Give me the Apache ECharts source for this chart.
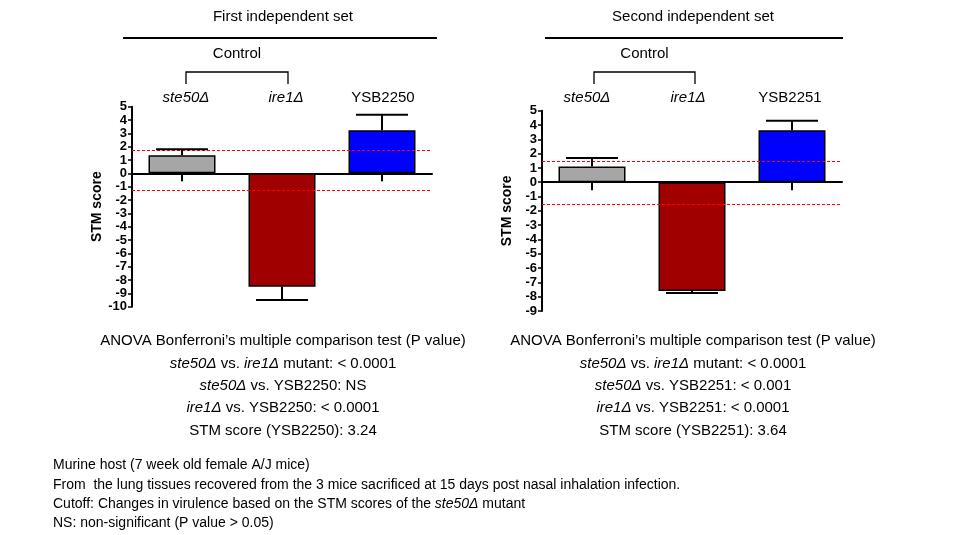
<!DOCTYPE html>
<html><head><meta charset="utf-8">
<script src="https://cdn.jsdelivr.net/npm/echarts@6/dist/echarts.min.js"></script>
<style>html,body{margin:0;background:#fff}#c{width:960px;height:535px}</style>
</head><body><div id="c"></div>
<script>
const categories = ['ste50Δ', 'ire1Δ', 'YSB'];
const colors = ['#a6a6a6', '#a00000', '#0000ff'];
const set1Values = [1.35, -8.5, 3.24];
const set1ErrEnd = [1.8, -9.5, 4.4];
const set1Cutoff = [1.75, -1.3];
const set2Values = [1.1, -7.6, 3.64];
const set2ErrEnd = [1.7, -7.75, 4.3];
const set2Cutoff = [1.5, -1.55];
const yTicks1 = {min: -10, max: 5};
const yTicks2 = {min: -9, max: 5};

const font = 'Liberation Sans, Arial, sans-serif';
function yAxis(idx, t) {
  return {gridIndex: idx, type: 'value', min: t.min, max: t.max, interval: 1,
    axisLine: {show: true, lineStyle: {color: '#000', width: 2}},
    axisTick: {show: true, length: 4, lineStyle: {color: '#000', width: 1.5}},
    splitLine: {show: false},
    axisLabel: {color: '#000', fontWeight: 'bold', fontSize: 13, fontFamily: font, margin: 5},
    name: 'STM score', nameLocation: 'middle', nameGap: 28, nameRotate: 90,
    nameTextStyle: {color: '#000', fontWeight: 'bold', fontSize: 14, fontFamily: font}};
}
function xAxis(idx) {
  return {gridIndex: idx, type: 'category', data: categories,
    axisLine: {onZero: true, lineStyle: {color: '#000', width: 2}},
    axisTick: {show: true, alignWithLabel: true, inside: false, length: 8, lineStyle: {color: '#000', width: 2}, interval: 0},
    axisLabel: {show: false}};
}
function bars(idx, vals, cut) {
  return {type: 'bar', xAxisIndex: idx, yAxisIndex: idx, barWidth: 67,
    data: vals.map((v, i) => ({value: v, itemStyle: {color: colors[i], borderColor: '#000', borderWidth: 1.5}})),
    markLine: {silent: true, symbol: 'none', label: {show: false},
      lineStyle: {color: '#ff0000', type: [3, 2], width: 1},
      data: cut.map(c => ({yAxis: c}))}};
}
function errs(idx, vals, ends) {
  return {type: 'custom', xAxisIndex: idx, yAxisIndex: idx, z: 5,
    data: vals.map((v, i) => [i, v, ends[i]]),
    renderItem: (p, api) => {
      const a = api.coord([api.value(0), api.value(1)]);
      const b = api.coord([api.value(0), api.value(2)]);
      const st = {stroke: '#000', lineWidth: 2};
      return {type: 'group', children: [
        {type: 'line', shape: {x1: a[0], y1: a[1], x2: b[0], y2: b[1]}, style: st},
        {type: 'line', shape: {x1: b[0] - 26, y1: b[1], x2: b[0] + 26, y2: b[1]}, style: st}]};
    }};
}
function txt(x, y, text, opts) {
  return Object.assign({type: 'text', x: x, y: y, style: Object.assign({text: text, fill: '#000', font: '15px ' + font, textAlign: 'center', textVerticalAlign: 'middle'}, opts || {})});
}
function rich(x, y, parts, size) {
  let text = parts.map(p => p[1] ? '{i|' + p[0] + '}' : '{n|' + p[0] + '}').join('');
  return {type: 'text', x: x, y: y, style: {text: text, textAlign: 'center', textVerticalAlign: 'middle',
    rich: {n: {fontSize: size, fontFamily: font, fill: '#000'}, i: {fontSize: size, fontFamily: font, fontStyle: 'italic', fill: '#000'}}}};
}
function header(cx, l1, l2, bx1, bx2, catX, strain) {
  const ln = {stroke: '#000', lineWidth: 1.3};
  return [
    txt(cx, 17, cx < 480 ? 'First independent set' : 'Second independent set'),
    {type: 'line', shape: {x1: l1, y1: 38, x2: l2, y2: 38}, style: {stroke: '#000', lineWidth: 2}},
    txt((bx1 + bx2) / 2, 54, 'Control'),
    {type: 'polyline', shape: {points: [[bx1, 84], [bx1, 72], [bx2, 72], [bx2, 84]]}, style: Object.assign({fill: null}, ln)},
    rich(catX[0], 98, [['ste50Δ', true]], 15),
    rich(catX[1], 98, [['ire1Δ', true]], 15),
    txt(catX[2], 98, strain)
  ];
}
function stats(cx, strain, p2, score) {
  return [
    txt(cx, 341, 'ANOVA Bonferroni’s multiple comparison test (P value)'),
    rich(cx, 364, [['ste50Δ', true], [' vs. ', false], ['ire1Δ', true], [' mutant: < 0.0001', false]], 15),
    rich(cx, 386, [['ste50Δ', true], [' vs. ' + strain + ': ' + p2, false]], 15),
    rich(cx, 408, [['ire1Δ', true], [' vs. ' + strain + ': < 0.0001', false]], 15),
    txt(cx, 431, 'STM score (' + strain + '): ' + score)
  ];
}
const fs = 14;
const foot = [
  txt(53, 465, 'Murine host (7 week old female A/J mice)', {textAlign: 'left', font: fs + 'px ' + font}),
  txt(53, 485, 'From  the lung tissues recovered from the 3 mice sacrificed at 15 days post nasal inhalation infection.', {textAlign: 'left', font: fs + 'px ' + font}),
  {type: 'text', x: 53, y: 504, style: {text: '{n|Cutoff: Changes in virulence based on the STM scores of the }{i|ste50Δ}{n| mutant}', textAlign: 'left', textVerticalAlign: 'middle',
    rich: {n: {fontSize: fs, fontFamily: font, fill: '#000'}, i: {fontSize: fs, fontFamily: font, fontStyle: 'italic', fill: '#000'}}}},
  txt(53, 523, 'NS: non-significant (P value > 0.05)', {textAlign: 'left', font: fs + 'px ' + font})
];

const chart = echarts.init(document.getElementById('c'));
chart.setOption({
  animation: false,
  grid: [
    {left: 132, top: 106.7, width: 300, height: 200},
    {left: 542, top: 110.7, width: 300, height: 200.3}
  ],
  xAxis: [xAxis(0), xAxis(1)],
  yAxis: [yAxis(0, yTicks1), yAxis(1, yTicks2)],
  series: [bars(0, set1Values, set1Cutoff), errs(0, set1Values, set1ErrEnd),
           bars(1, set2Values, set2Cutoff), errs(1, set2Values, set2ErrEnd)],
  graphic: [].concat(
    header(283, 123, 437, 186, 288, [186, 286, 383], 'YSB2250'),
    header(693, 545, 843, 594, 695, [587, 688, 790], 'YSB2251'),
    stats(283, 'YSB2250', 'NS', '3.24'),
    stats(693, 'YSB2251', '< 0.001', '3.64'),
    foot)
});
</script></body></html>
